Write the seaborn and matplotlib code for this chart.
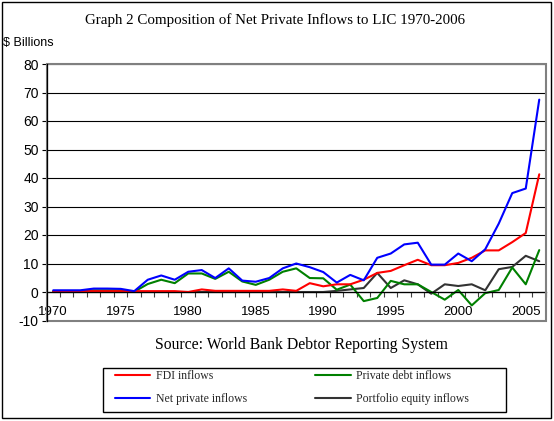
import numpy as np
import pandas as pd
import matplotlib
matplotlib.use("Agg")
import matplotlib.pyplot as plt
import seaborn as sns
from matplotlib.patches import Rectangle
from matplotlib.lines import Line2D
from matplotlib.font_manager import FontProperties

# ---------------- data ----------------
years = list(range(1970, 2007))

fdi_inflows = [0.3, 0.3, 0.3, 0.3, 0.3, 0.3, 0.3, 0.3, 0.3, 0.3,
               0.0, 0.9, 0.4, 0.4, 0.4, 0.4, 0.4, 0.9, 0.4, 3.1,
               2.0, 2.7, 2.7, 4.3, 6.7, 7.4, 9.4, 11.3, 9.4, 9.4,
               10.2, 12.0, 14.6, 14.6, 17.5, 20.7, 41.3]

net_private_inflows = [0.6, 0.6, 0.6, 1.2, 1.2, 1.1, 0.3, 4.3, 5.8, 4.3,
                       7.1, 7.7, 4.9, 8.3, 4.0, 3.6, 4.9, 8.3, 10.0, 8.7,
                       7.0, 3.3, 6.0, 4.1, 12.0, 13.5, 16.7, 17.3, 9.6, 9.6,
                       13.5, 10.8, 15.0, 24.0, 34.7, 36.3, 67.5]

private_debt_inflows = [0.2, 0.2, 0.2, 0.6, 0.6, 0.6, 0.1, 2.8, 4.3, 3.1,
                        6.5, 6.5, 4.6, 7.1, 3.7, 2.5, 4.3, 7.1, 8.3, 4.9,
                        4.8, 0.8, 2.6, -3.2, -2.1, 3.9, 2.7, 2.7, 0.0, -2.7,
                        0.7, -4.7, -0.4, 0.7, 8.6, 2.7, 14.7]

portfolio_equity_inflows = [0.0, 0.0, 0.0, 0.0, 0.0, 0.0, 0.0, 0.0, 0.0, 0.0,
                            0.0, 0.0, 0.0, 0.0, 0.0, 0.0, 0.0, 0.0, 0.0, 0.0,
                            0.0, 0.4, 0.9, 1.4, 6.7, 1.4, 4.1, 2.7, -0.6, 2.7,
                            2.1, 2.7, 0.6, 8.0, 8.8, 12.7, 10.8]

legend_labels = ["FDI inflows", "Net private inflows",
                 "Private debt inflows", "Portfolio equity inflows"]
draw_order = ["Portfolio equity inflows", "Private debt inflows",
              "FDI inflows", "Net private inflows"]
colors = {"FDI inflows": "#FF0000",
          "Net private inflows": "#0000FF",
          "Private debt inflows": "#008000",
          "Portfolio equity inflows": "#333333"}

title = "Graph 2 Composition of Net Private Inflows to LIC 1970-2006"
y_title = "$ Billions"
source = "Source: World Bank Debtor Reporting System"
y_ticks = list(range(-10, 81, 10))
x_label_years = list(range(1970, 2006, 5))

df = pd.DataFrame({
    "Year": years * 4,
    "Value": fdi_inflows + net_private_inflows + private_debt_inflows + portfolio_equity_inflows,
    "Series": (["FDI inflows"] * len(years) + ["Net private inflows"] * len(years)
               + ["Private debt inflows"] * len(years) + ["Portfolio equity inflows"] * len(years)),
})

# ---------------- figure ----------------
sns.set_theme(style="white")
plt.rcParams['font.family'] = ['Liberation Sans', 'DejaVu Sans']

W, H = 554, 421
fig = plt.figure(figsize=(W / 100, H / 100), dpi=100)
fig.patch.set_facecolor("white")

left_px, right_px, top_px, bot_px = 46.5, 546.0, 64.0, 320.5
ax = fig.add_axes([left_px / W, 1 - bot_px / H, (right_px - left_px) / W, (bot_px - top_px) / H])
ax.set_facecolor("white")

sns.lineplot(data=df, x="Year", y="Value", hue="Series", hue_order=draw_order,
             palette=colors, linewidth=1.5, ax=ax, legend=False)

ax.set_xlim(1969.5, 2006.5)
ax.set_ylim(-10, 80)
ax.set_xlabel("")
ax.set_ylabel("")

# y axis
ax.set_yticks(y_ticks)
ax.set_yticklabels([str(v) for v in y_ticks])
ax.yaxis.grid(True, color="black", linewidth=0.8)
ax.set_axisbelow(True)
ax.tick_params(axis="y", which="major", direction="out", length=3.6, width=0.8,
               color="black", labelsize=10, pad=2, left=True, labelcolor="black")

# x axis at zero
ax.spines["bottom"].set_position(("data", 0))
ax.spines["bottom"].set_color("black")
ax.spines["bottom"].set_linewidth(0.9)
ax.spines["left"].set_color("black")
ax.spines["left"].set_linewidth(0.9)
ax.spines["left"].set_zorder(5)
ax.spines["top"].set_visible(False)
ax.spines["right"].set_visible(False)

ax.set_xticks(x_label_years)
ax.set_xticklabels([str(y) for y in x_label_years])
ax.set_xticks([years[0] - 0.5 + k for k in range(1, len(years) + 1)], minor=True)
ax.tick_params(axis="x", which="major", length=0, labelsize=9.5, pad=10.2, bottom=True,
               labelcolor="black")
ax.tick_params(axis="x", which="minor", direction="out", length=3.6, width=0.8,
               color="#404040", bottom=True)

# plot area frame
frame = Rectangle((0, 0), 1, 1, transform=ax.transAxes, fill=False,
                  edgecolor="#808080", linewidth=1.5, zorder=4, clip_on=False)
ax.add_patch(frame)

# texts
fig.text(275 / W, 1 - 20 / H, title, ha="center", va="center",
         family="Liberation Serif", fontsize=10.8, color="black")
fig.text(3 / W, 1 - 43 / H, y_title, ha="left", va="center", fontsize=9, color="black")
fig.text(301 / W, 1 - 345 / H, source, ha="center", va="center",
         family="Liberation Serif", fontsize=11.3, color="black")

# legend
handles = [Line2D([0], [0], color=colors[n], linewidth=1.5) for n in legend_labels]
fig.legend(handles, legend_labels, ncol=2, loc="upper left",
           bbox_to_anchor=(115 / W, 1 - 370 / H), frameon=False,
           borderpad=0, borderaxespad=0, handlelength=3.0, handletextpad=0.45,
           columnspacing=5.8, labelspacing=0.95,
           prop=FontProperties(family="Liberation Serif", size=8.5))
fig.add_artist(Rectangle((103 / W, 1 - 412 / H), 403 / W, 44 / H, transform=fig.transFigure,
                         fill=False, edgecolor="black", linewidth=1.0))

# outer border
fig.add_artist(Rectangle((1.5 / W, 1 - 418 / H), 549.5 / W, 416.5 / H, transform=fig.transFigure,
                         fill=False, edgecolor="black", linewidth=1.0))

fig.savefig("out.png", dpi=100)
